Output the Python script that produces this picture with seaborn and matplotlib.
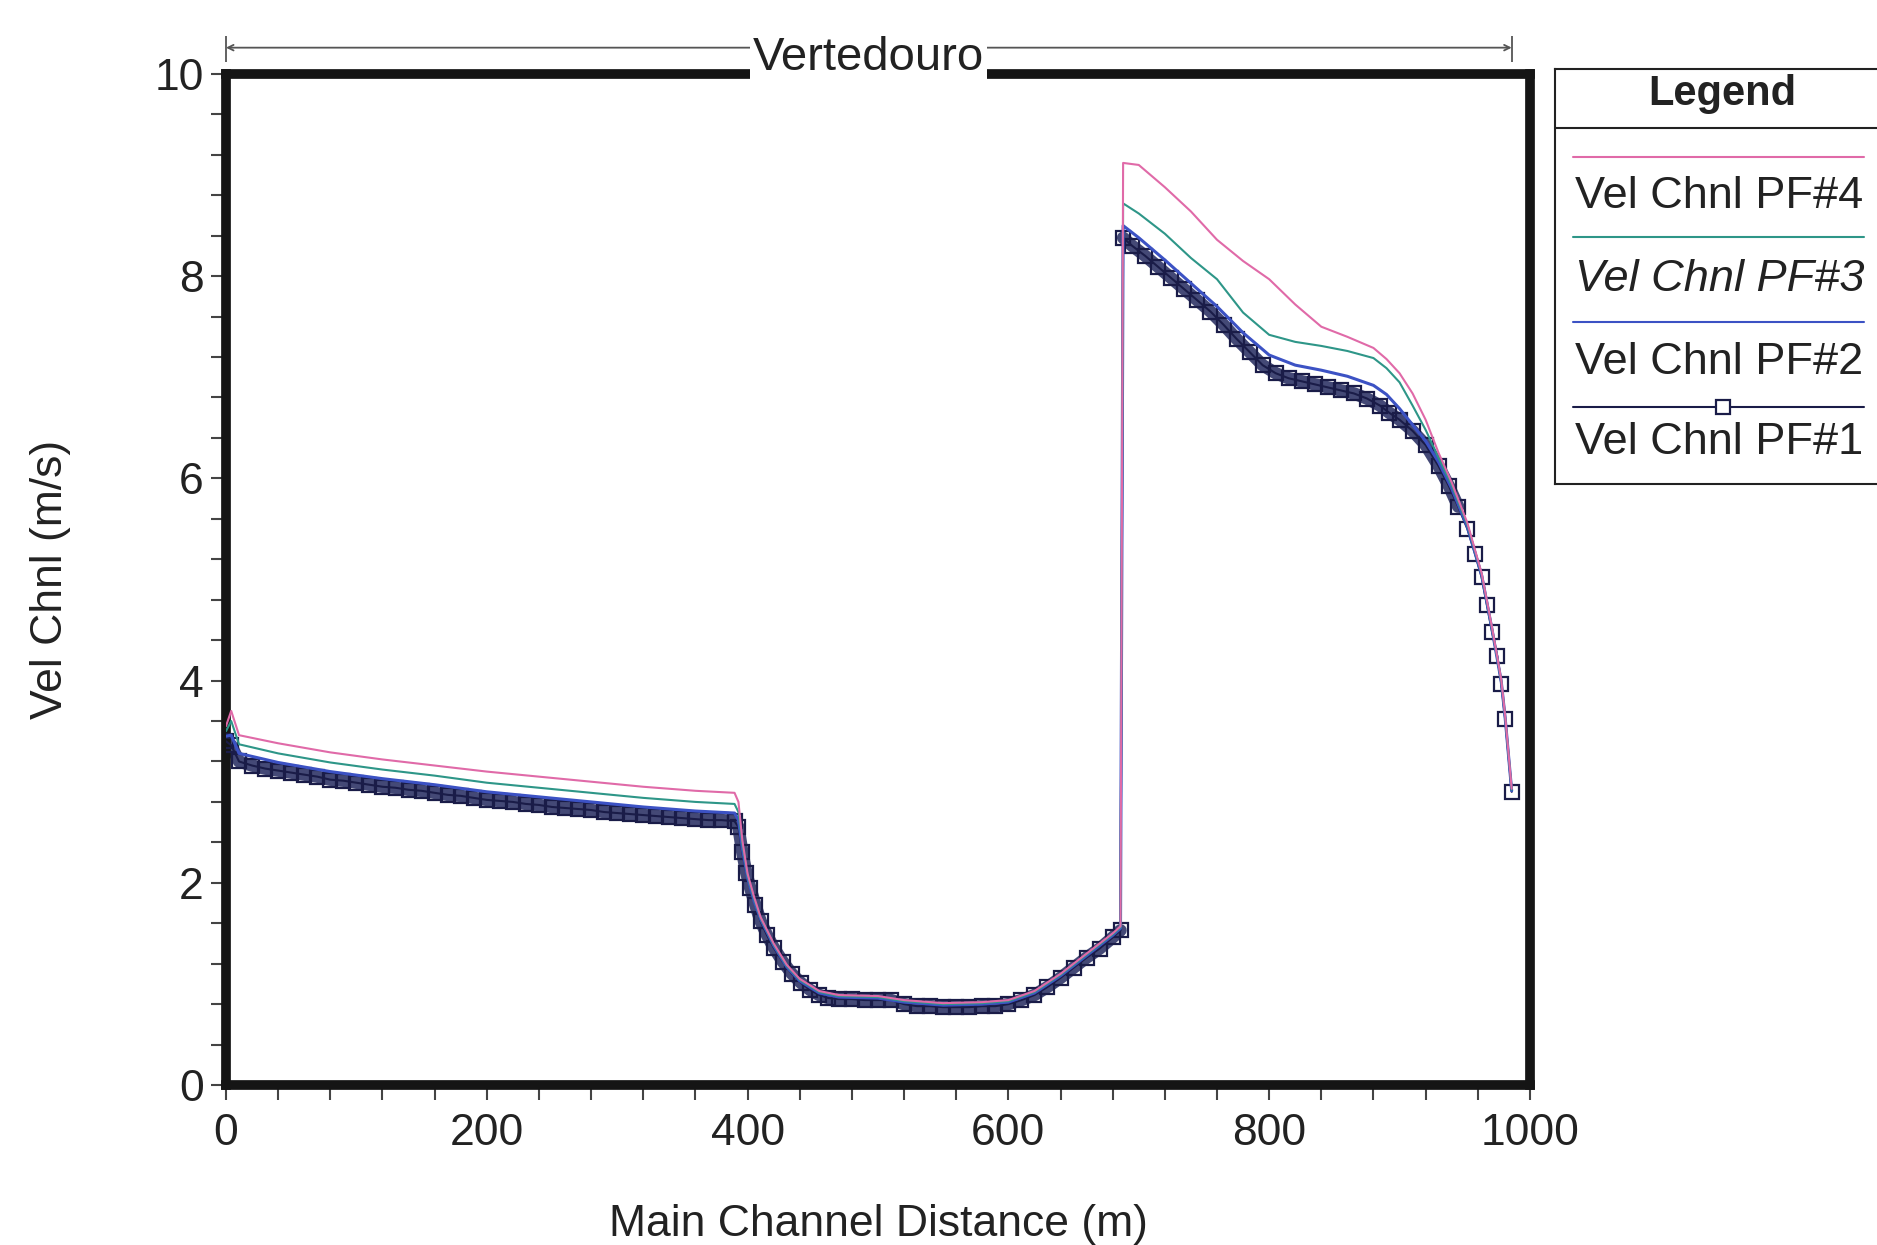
import matplotlib
matplotlib.use("Agg")
import matplotlib.pyplot as plt
from matplotlib.ticker import MultipleLocator
import numpy as np
import pandas as pd
import seaborn as sns

sns.set_style("white")
plt.rcParams['font.family'] = ['Liberation Sans', 'DejaVu Sans']

# Main channel distance (m) of the cross sections, profile PF#1 (with markers)
pf1_station = [0, 4, 10, 20, 30, 40, 50, 60, 70, 80, 90, 100, 110, 120, 130, 140, 150, 160, 170, 180,
               190, 200, 210, 220, 230, 240, 250, 260, 270, 280, 290, 300, 310, 320, 330, 340, 350, 360,
               370, 380, 390,
               393, 396, 399, 402, 406, 410, 415, 420, 427, 434, 441, 448, 455, 462,
               470, 480, 490, 500, 510, 520, 530, 540, 550, 560, 570, 580, 590, 600, 610, 620, 630, 640,
               650, 660, 670, 680,
               686, 688,
               695, 705, 715, 725, 735, 745, 755, 765, 775, 785, 795, 805, 815, 825, 835, 845, 855, 865,
               875, 885,
               892, 900, 910, 920, 930,
               938, 945, 952, 958, 963, 967, 971, 975, 978, 981, 986]
pf1_vel = [3.40, 3.36, 3.20, 3.16, 3.13, 3.11, 3.09, 3.07, 3.05, 3.02, 3.01, 2.99, 2.97, 2.95, 2.94, 2.92,
           2.91, 2.89, 2.87, 2.86, 2.84, 2.82, 2.81, 2.80, 2.78, 2.77, 2.75, 2.74, 2.73, 2.72, 2.70, 2.69,
           2.68, 2.67, 2.66, 2.65, 2.64, 2.63, 2.62, 2.62, 2.61,
           2.55, 2.30, 2.10, 1.95, 1.78, 1.62, 1.48, 1.36, 1.22, 1.10, 1.01, 0.94, 0.89, 0.86,
           0.85, 0.85, 0.84, 0.84, 0.84, 0.80, 0.78, 0.78, 0.77, 0.77, 0.77, 0.78, 0.78, 0.80, 0.84, 0.89,
           0.97, 1.06, 1.16, 1.26, 1.35, 1.46,
           1.53, 8.38,
           8.30, 8.20, 8.09, 7.98, 7.87, 7.76, 7.65, 7.52, 7.38, 7.25, 7.12, 7.04, 6.99, 6.96, 6.93, 6.90,
           6.87, 6.84, 6.79, 6.72,
           6.65, 6.58, 6.47, 6.33, 6.12,
           5.92, 5.72, 5.50, 5.25, 5.02, 4.75, 4.48, 4.24, 3.97, 3.62, 2.90]

# Stations used for the other profiles (lines only)
station = [0, 4, 10, 40, 80, 120, 160, 200, 240, 280, 320, 360, 390,
           393, 396, 400, 405, 410, 420, 430, 440, 455, 470,
           500, 520, 550, 580, 600, 620, 640, 660, 680,
           686, 688,
           700, 720, 740, 760, 780, 800, 820, 840, 860, 880,
           890, 900, 910, 920, 930, 940,
           952, 963, 971, 978, 981, 986]
pf2_vel = [3.45, 3.46, 3.28, 3.19, 3.10, 3.03, 2.97, 2.90, 2.85, 2.80, 2.75, 2.71, 2.69,
           2.62, 2.34, 2.05, 1.82, 1.64, 1.38, 1.17, 1.03, 0.91, 0.87,
           0.86, 0.82, 0.79, 0.80, 0.82, 0.91, 1.08, 1.28, 1.48,
           1.55, 8.50,
           8.38, 8.16, 7.93, 7.70, 7.44, 7.22, 7.12, 7.07, 7.01, 6.92,
           6.83, 6.69, 6.53, 6.37, 6.16, 5.90,
           5.52, 5.04, 4.50, 3.99, 3.63, 2.91]
pf3_vel = [3.50, 3.60, 3.37, 3.28, 3.19, 3.12, 3.06, 2.99, 2.94, 2.89, 2.84, 2.80, 2.78,
           2.70, 2.38, 2.07, 1.84, 1.65, 1.39, 1.18, 1.04, 0.92, 0.88,
           0.87, 0.83, 0.80, 0.81, 0.83, 0.92, 1.09, 1.29, 1.49,
           1.56, 8.72,
           8.62, 8.42, 8.18, 7.97, 7.64, 7.42, 7.35, 7.31, 7.26, 7.19,
           7.09, 6.95, 6.72, 6.48, 6.20, 5.93,
           5.54, 5.05, 4.51, 4.00, 3.64, 2.92]
pf4_vel = [3.55, 3.70, 3.46, 3.38, 3.29, 3.22, 3.16, 3.10, 3.05, 3.00, 2.95, 2.91, 2.89,
           2.80, 2.42, 2.09, 1.86, 1.66, 1.40, 1.19, 1.05, 0.93, 0.89,
           0.88, 0.84, 0.81, 0.82, 0.84, 0.93, 1.10, 1.30, 1.50,
           1.57, 9.12,
           9.10, 8.88, 8.64, 8.36, 8.15, 7.97, 7.72, 7.50, 7.40, 7.29,
           7.18, 7.04, 6.84, 6.58, 6.25, 5.96,
           5.56, 5.06, 4.52, 4.01, 3.65, 2.93]

colors = {'Vel Chnl PF#4': '#e06aa8', 'Vel Chnl PF#3': '#2e9688',
          'Vel Chnl PF#2': '#3c52c4', 'Vel Chnl PF#1': '#1a1c48'}

df1 = pd.DataFrame({'station': pf1_station, 'vel': pf1_vel})
# upstream of the spillway crest / downstream of it (the jump is drawn thin)
df1['reach'] = np.where(df1['station'] <= 686, 'up', 'down')
df_rest = pd.concat([
    pd.DataFrame({'station': station, 'vel': pf2_vel, 'profile': 'Vel Chnl PF#2'}),
    pd.DataFrame({'station': station, 'vel': pf3_vel, 'profile': 'Vel Chnl PF#3'}),
    pd.DataFrame({'station': station, 'vel': pf4_vel, 'profile': 'Vel Chnl PF#4'}),
])

fig = plt.figure(figsize=(18.77, 12.45), dpi=100)
ax = fig.add_axes([0.1204, 0.1285, 0.6947, 0.8121])

# Profile 1: dense sections give a dark band, sparse sections at the end show hollow squares
dense = df1[df1['station'] < 950]
sns.lineplot(data=dense, x='station', y='vel', units='reach', ax=ax, sort=False, estimator=None,
             color='#23295e', lw=9, alpha=0.85, legend=False, zorder=2)
sns.lineplot(data=df1, x='station', y='vel', ax=ax, sort=False, estimator=None,
             color=colors['Vel Chnl PF#1'], lw=1.5, marker='s', markersize=10,
             markerfacecolor='none', markeredgecolor=colors['Vel Chnl PF#1'], markeredgewidth=1.6,
             legend=False, zorder=3)
# Other profiles
for prof, lw in [('Vel Chnl PF#2', 2.2), ('Vel Chnl PF#3', 1.5), ('Vel Chnl PF#4', 1.5)]:
    sns.lineplot(data=df_rest[df_rest['profile'] == prof], x='station', y='vel', ax=ax, sort=False,
                 estimator=None, color=colors[prof], lw=lw, legend=False, zorder=4)

ax.set_xlim(0, 1000)
ax.set_ylim(0, 10)
ax.set_xticks(range(0, 1001, 200))
ax.set_yticks(range(0, 11, 2))
ax.xaxis.set_minor_locator(MultipleLocator(40))
ax.yaxis.set_minor_locator(MultipleLocator(0.4))
ax.tick_params(which='both', direction='out', color='#444444', width=1.5, length=11,
               bottom=True, left=True, top=False, right=False)
ax.tick_params(which='major', labelsize=32, labelcolor='#222222')
ax.tick_params(axis='x', pad=9)
ax.tick_params(axis='y', pad=5)
for side in ['left', 'right', 'top', 'bottom']:
    ax.spines[side].set_visible(True)
    ax.spines[side].set_linewidth(7)
    ax.spines[side].set_color('#151515')
ax.set_xlabel('Main Channel Distance (m)', fontsize=32, color='#222222', labelpad=36)
ax.set_ylabel('Vel Chnl (m/s)', fontsize=32, color='#222222', labelpad=60)

# Spillway annotation above the plot
trans = ax.get_xaxis_transform()
ax.annotate('', xy=(0, 1.026), xytext=(986, 1.026), xycoords=trans, textcoords=trans,
            arrowprops=dict(arrowstyle='<->', color='#555555', lw=1.3, shrinkA=0, shrinkB=0),
            annotation_clip=False)
ax.vlines([0, 986], 1.012, 1.038, transform=trans, color='#555555', lw=1.3, clip_on=False)
ax.text(493, 1.016, 'Vertedouro', transform=trans, ha='center', va='center', fontsize=34,
        color='#222222', zorder=10, clip_on=False,
        bbox=dict(facecolor='white', edgecolor='none', pad=2))

# Legend box
lax = fig.add_axes([0.8285, 0.6112, 0.175, 0.3334])
lax.set_xlim(0, 1)
lax.set_ylim(0, 1)
lax.set_xticks([])
lax.set_yticks([])
for side in ['left', 'right', 'top', 'bottom']:
    lax.spines[side].set_linewidth(1.5)
    lax.spines[side].set_color('#222222')
lax.text(0.51, 0.94, 'Legend', ha='center', va='center', fontsize=30, fontweight='bold', color='#222222')
lax.plot([0, 1], [0.858, 0.858], color='#222222', lw=1.5)
entries = [('Vel Chnl PF#4', 0.788, 0.692, 'normal'),
           ('Vel Chnl PF#3', 0.595, 0.492, 'italic'),
           ('Vel Chnl PF#2', 0.390, 0.294, 'normal'),
           ('Vel Chnl PF#1', 0.186, 0.099, 'normal')]
for name, ly, ty, style in entries:
    lax.plot([0.055, 0.94], [ly, ly], color=colors[name], lw=1.5)
    lax.text(0.06, ty, name, ha='left', va='center', fontsize=32.5, style=style, color='#222222')
lax.plot([0.51], [0.186], marker='s', markersize=10, markerfacecolor='white',
         markeredgecolor=colors['Vel Chnl PF#1'], markeredgewidth=1.6)

fig.savefig('out.png', dpi=100, facecolor='white')
